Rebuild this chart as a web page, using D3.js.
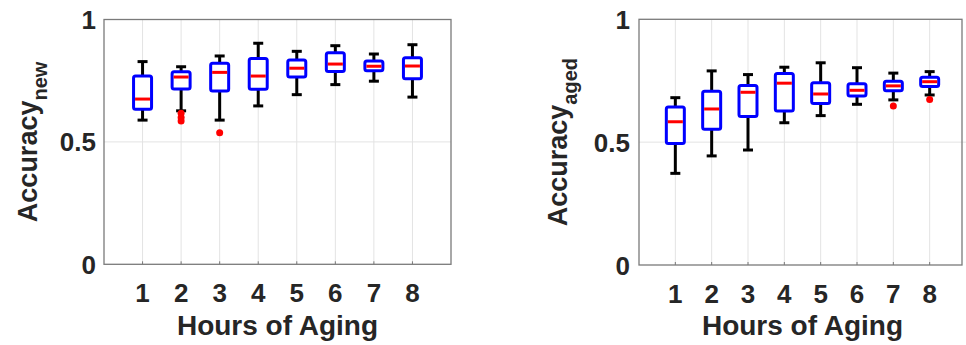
<!DOCTYPE html>
<html lang="en">
<head>
<meta charset="UTF-8">
<script src="https://cdn.jsdelivr.net/npm/d3@7"></script>
<style>
    body{ margin:0; background:#fff; }
    text{ font-family:"Liberation Sans", Arial, sans-serif; font-weight:bold; fill:#262626; }
</style>
<title>Accuracy vs hours of aging</title>
</head>
<body>
<svg id="chart"></svg>
<script>
    var width=966,height=345;

    // data
    var hours=[1,2,3,4,5,6,7,8];
    var yTicks=[0,0.5,1];
    var yTickLabels=["0","0.5","1"];

    // new: [lower whisker, q1, median, q3, upper whisker]
    var newLow   =[0.589,0.627,0.589,0.647,0.693,0.734,0.748,0.683];
    var newQ1    =[0.633,0.716,0.708,0.715,0.765,0.788,0.791,0.758];
    var newMed   =[0.675,0.765,0.784,0.769,0.801,0.818,0.809,0.810];
    var newQ3    =[0.769,0.787,0.821,0.841,0.835,0.864,0.830,0.844];
    var newHigh  =[0.828,0.807,0.851,0.903,0.870,0.893,0.859,0.897];
    var newOut   =[[],[0.617,0.600,0.585],[0.537],[],[],[],[],[]];

    var agedLow  =[0.373,0.444,0.468,0.579,0.608,0.654,0.672,0.692];
    var agedQ1   =[0.494,0.553,0.604,0.627,0.657,0.688,0.709,0.726];
    var agedMed  =[0.583,0.635,0.703,0.740,0.696,0.711,0.729,0.746];
    var agedQ3   =[0.643,0.707,0.731,0.779,0.742,0.738,0.748,0.764];
    var agedHigh =[0.681,0.790,0.775,0.805,0.823,0.803,0.781,0.787];
    var agedOut  =[[],[],[],[],[],[],[0.647],[0.674]];

    var svg=d3.select("#chart").attr("width",width).attr("height",height);

    drawPanel({left:104,right:451,top:19.5,bottom:264.3},
        [newLow,newQ1,newMed,newQ3,newHigh],newOut,"new",96,37);
    drawPanel({left:639,right:966,top:19.3,bottom:265},
        [agedLow,agedQ1,agedMed,agedQ3,agedHigh],agedOut,"aged",630,567);

    function drawPanel(p,stats,outs,sub,tickRight,labelX){
        var x=d3.scaleLinear().domain([0,9]).range([p.left,p.right]);
        var y=d3.scaleLinear().domain([0,1]).range([p.bottom,p.top]);
        var g=svg.append("g");

        // grid
        g.selectAll(".vgrid").data(hours).enter().append("line")
            .attr("x1",function(d){return x(d);}).attr("x2",function(d){return x(d);})
            .attr("y1",y(0)).attr("y2",y(1))
            .attr("stroke","#e3e3e3").attr("stroke-width",1);
        g.append("line")
            .attr("x1",x(0)).attr("x2",x(9))
            .attr("y1",y(0.5)).attr("y2",y(0.5))
            .attr("stroke","#e3e3e3").attr("stroke-width",1);

        // frame
        var frameRight=Math.min(x(9),962);
        g.append("rect")
            .attr("x",x(0)).attr("y",y(1))
            .attr("width",frameRight-x(0)).attr("height",y(0)-y(1))
            .attr("fill","none").attr("stroke","#7a7a7a").attr("stroke-width",1.3);
        // small ticks
        g.selectAll(".xtick").data(hours).enter().append("line")
            .attr("x1",function(d){return x(d);}).attr("x2",function(d){return x(d);})
            .attr("y1",y(0)).attr("y2",y(0)-3)
            .attr("stroke","#7a7a7a");

        // tick labels
        g.selectAll(".xlab").data(hours).enter().append("text")
            .attr("x",function(d){return x(d);}).attr("y",y(0)+37.5)
            .attr("text-anchor","middle").attr("font-size",26)
            .text(function(d){return d;});
        g.selectAll(".ylab").data(yTicks).enter().append("text")
            .attr("x",tickRight).attr("y",function(d){return y(d)+9.5;})
            .attr("text-anchor","end").attr("font-size",26)
            .text(function(d,i){return yTickLabels[i];});

        // axis titles
        g.append("text")
            .attr("x",(x(0)+x(9))/2).attr("y",335)
            .attr("text-anchor","middle").attr("font-size",28)
            .text("Hours of Aging");
        var yl=g.append("text")
            .attr("transform","translate("+labelX+","+((p.top+p.bottom)/2)+") rotate(-90)")
            .attr("text-anchor","middle").attr("font-size",27);
        yl.append("tspan").text("Accuracy");
        yl.append("tspan").attr("font-size",20).attr("dy",10).text(sub);

        // boxes
        var bw=18,cw=10;
        var boxes=g.selectAll(".box").data(hours).enter().append("g");
        // whiskers
        boxes.append("line")
            .attr("x1",function(d){return x(d);}).attr("x2",function(d){return x(d);})
            .attr("y1",function(d,i){return y(stats[4][i]);}).attr("y2",function(d,i){return y(stats[3][i]);})
            .attr("stroke","#000").attr("stroke-width",3);
        boxes.append("line")
            .attr("x1",function(d){return x(d);}).attr("x2",function(d){return x(d);})
            .attr("y1",function(d,i){return y(stats[0][i]);}).attr("y2",function(d,i){return y(stats[1][i]);})
            .attr("stroke","#000").attr("stroke-width",3);
        [0,4].forEach(function(k){
            boxes.append("line")
                .attr("x1",function(d){return x(d)-cw/2;}).attr("x2",function(d){return x(d)+cw/2;})
                .attr("y1",function(d,i){return y(stats[k][i]);}).attr("y2",function(d,i){return y(stats[k][i]);})
                .attr("stroke","#000").attr("stroke-width",3);
        });
        boxes.append("rect")
            .attr("x",function(d){return x(d)-bw/2;})
            .attr("y",function(d,i){return y(stats[3][i]);})
            .attr("width",bw)
            .attr("height",function(d,i){return y(stats[1][i])-y(stats[3][i]);})
            .attr("rx",2)
            .attr("fill","#fff").attr("stroke","#0000ff").attr("stroke-width",3);
        boxes.append("line")
            .attr("x1",function(d){return x(d)-bw/2+1.5;}).attr("x2",function(d){return x(d)+bw/2-1.5;})
            .attr("y1",function(d,i){return y(stats[2][i]);}).attr("y2",function(d,i){return y(stats[2][i]);})
            .attr("stroke","#ff0000").attr("stroke-width",3);
        // outliers
        hours.forEach(function(h,i){
            g.selectAll(null).data(outs[i]).enter().append("circle")
                .attr("cx",x(h)).attr("cy",function(d){return y(d);})
                .attr("r",3.5).attr("fill","#ff0000");
        });
    }
</script>
</body>
</html>
